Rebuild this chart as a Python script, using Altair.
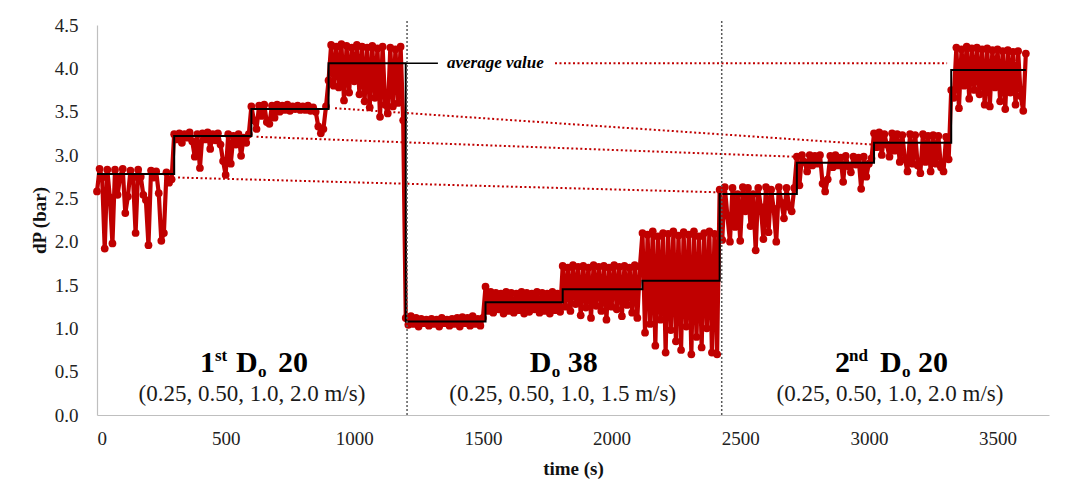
import altair as alt
import pandas as pd

RED = "#C00000"
FONT = "Liberation Serif"
SAMPLE_STEP = 10  # seconds between recorded samples

# ---- measured signal (dP, bar), one list per velocity step ----
segment_start = [0, 300, 600, 900, 1200, 1510, 1810, 2120, 2420, 2720, 3020, 3320]
segment_avg = [2.78, 3.22, 3.53, 4.06, 1.08, 1.30, 1.45, 1.55, 2.55, 2.91, 3.14, 3.98]
end_time = 3610

seg01 = [2.58, 2.84, 2.74, 1.92, 2.83, 2.51, 1.98, 2.83, 2.54, 2.75,
         2.84, 2.33, 2.52, 2.82, 2.74, 2.10, 2.83, 2.75, 2.54, 2.48,
         1.96, 2.82, 2.74, 2.81, 2.56, 2.01, 2.10, 2.80, 2.68, 2.72]
seg02 = [3.24, 3.18, 3.25, 3.14, 3.24, 3.20, 3.26, 3.16, 2.98, 3.24,
         2.85, 3.25, 3.18, 3.26, 3.07, 3.24, 3.17, 3.25, 3.12, 2.93,
         2.77, 3.24, 2.90, 3.22, 3.12, 3.24, 2.99, 3.20, 3.14, 3.24]
seg03 = [3.56, 3.40, 3.30, 3.57, 3.45, 3.58, 3.38, 3.36, 3.57, 3.43,
         3.58, 3.50, 3.57, 3.52, 3.58, 3.51, 3.56, 3.53, 3.57, 3.52,
         3.56, 3.52, 3.57, 3.51, 3.55, 3.50, 3.33, 3.25, 3.30, 3.56]
seg04 = [3.86, 4.27, 3.80, 4.25, 3.78, 4.28, 3.63, 4.26, 3.72, 4.24,
         3.85, 4.27, 3.70, 4.25, 3.62, 4.24, 3.55, 4.26, 3.66, 4.23,
         3.44, 4.25, 3.58, 3.48, 4.24, 3.56, 4.22, 3.60, 4.25, 3.40]
seg05 = [1.12, 1.04, 1.14, 1.05, 1.12, 1.02, 1.11, 1.06, 1.10, 1.03,
         1.11, 1.05, 1.10, 1.02, 1.12, 1.06, 1.10, 1.03, 1.11, 1.05,
         1.12, 1.02, 1.13, 1.06, 1.12, 1.03, 1.14, 1.05, 1.11, 1.03, 1.12]
seg06 = [1.48, 1.20, 1.42, 1.18, 1.41, 1.22, 1.40, 1.17, 1.42, 1.20,
         1.41, 1.18, 1.40, 1.21, 1.42, 1.17, 1.41, 1.19, 1.40, 1.22,
         1.42, 1.18, 1.41, 1.20, 1.40, 1.17, 1.42, 1.21, 1.40, 1.19]
seg07 = [1.72, 1.25, 1.70, 1.20, 1.73, 1.28, 1.71, 1.15, 1.72, 1.24,
         1.70, 1.12, 1.73, 1.26, 1.71, 1.20, 1.72, 1.10, 1.70, 1.25,
         1.73, 1.22, 1.71, 1.14, 1.72, 1.27, 1.70, 1.18, 1.73, 1.12, 1.71]
seg08 = [2.10, 0.95, 2.08, 1.05, 2.12, 0.80, 2.06, 1.10, 2.10, 0.72,
         2.09, 0.98, 2.12, 0.85, 2.07, 0.75, 2.11, 1.02, 2.08, 0.70,
         2.12, 0.90, 2.06, 0.78, 2.10, 1.00, 2.12, 0.72, 2.09, 0.70]
seg09 = [2.60, 2.02, 2.63, 2.30, 2.00, 2.62, 2.17, 2.55, 2.01, 2.63,
         2.35, 2.62, 2.18, 2.55, 1.90, 2.62, 2.40, 2.03, 2.63, 2.11,
         2.60, 2.38, 2.00, 2.63, 2.45, 2.27, 2.62, 2.40, 2.35, 2.62]
seg10 = [2.98, 2.65, 3.00, 2.92, 2.81, 3.00, 2.88, 2.99, 2.90, 3.00,
         2.67, 2.58, 2.72, 2.99, 2.86, 3.00, 2.88, 2.97, 2.69, 2.99,
         2.87, 2.80, 2.98, 2.89, 2.97, 2.61, 2.98, 2.75, 2.90, 2.96]
seg11 = [3.25, 3.09, 3.26, 3.00, 3.24, 3.12, 2.98, 3.25, 3.05, 3.24,
         2.92, 3.23, 2.95, 2.81, 3.24, 2.90, 3.23, 2.88, 2.79, 3.24,
         2.92, 3.22, 2.81, 3.23, 2.90, 3.22, 2.86, 2.81, 3.21, 2.95]
seg12 = [3.75, 3.66, 4.24, 3.54, 4.22, 3.80, 4.25, 3.65, 4.23, 3.75,
         4.24, 3.70, 4.22, 3.58, 4.23, 3.56, 4.21, 3.78, 4.22, 3.62,
         4.20, 3.53, 4.21, 3.72, 4.19, 3.58, 4.20, 3.68, 3.51, 4.17]
segments = [seg01, seg02, seg03, seg04, seg05, seg06,
            seg07, seg08, seg09, seg10, seg11, seg12]

# ---- dotted guides linking equal-velocity averages ----
guide_x = [315, 620, 925, 1780]
guide_x2 = [2410, 2713, 3016, 3304]
guide_y = [2.74, 3.21, 3.54, 4.06]
guide_y2 = [2.57, 2.98, 3.12, 4.06]

divider_x = [1205, 2428]

leader_x, leader_x2, leader_y = 1200, 1325, 4.06
avg_label = "average value"
avg_label_x = 1360

group_center = [602, 1810, 3082]
group_sub = ["(0.25, 0.50, 1.0, 2.0 m/s)", "(0.25, 0.50, 1.0, 1.5 m/s)",
             "(0.25, 0.50, 1.0, 2.0 m/s)"]
# title pieces: (text, font size, dx, dy)
group_title = [
    [("1", 30, -52, 0), ("st", 17, -37, -11), ("D", 30, -16, 0), ("o", 17, 6, 5), ("20", 30, 26, 0)],
    [("D", 30, -33, 0), ("o", 17, -11, 5), ("38", 30, 5, 0)],
    [("2", 30, -55, 0), ("nd", 17, -41, -11), ("D", 30, -10, 0), ("o", 17, 12, 5), ("20", 30, 28, 0)],
]
title_y = 0.50
sub_y = 0.165

# ---- build tables ----
rows = []
for start, vals in zip(segment_start, segments):
    for i, v in enumerate(vals):
        rows.append({"t": start + SAMPLE_STEP * i, "dP": v})
signal = pd.DataFrame(rows)

avg_df = pd.DataFrame({"t": segment_start + [end_time],
                       "avg": segment_avg + [segment_avg[-1]]})
guides = pd.DataFrame({"x": guide_x, "x2": guide_x2, "y": guide_y, "y2": guide_y2})
dividers = pd.DataFrame({"x": divider_x, "y": [0, 0], "y2": [4.56, 4.56]})

xs = alt.Scale(domain=[0, 3700], nice=False, zero=False)
ys = alt.Scale(domain=[0, 4.5], nice=False)

x_axis = alt.Axis(values=[0, 500, 1000, 1500, 2000, 2500, 3000, 3500], format="d",
                  title="time (s)", ticks=False, grid=False, labelPadding=14,
                  titleY=44, titleBaseline="top")
y_axis = alt.Axis(values=[0, 0.5, 1, 1.5, 2, 2.5, 3, 3.5, 4, 4.5], format=".1f",
                  title="dP (bar)", ticks=False, grid=False, labelPadding=19,
                  titleX=-58, titleBaseline="middle")

base_x = alt.X("t:Q", scale=xs, axis=x_axis)
base_y = alt.Y("dP:Q", scale=ys, axis=y_axis)

guide_layer = alt.Chart(guides).mark_rule(color=RED, strokeWidth=2, strokeDash=[2, 2.5]).encode(
    x=alt.X("x:Q", scale=xs, axis=x_axis), x2="x2:Q",
    y=alt.Y("y:Q", scale=ys, axis=y_axis), y2="y2:Q")

signal_layer = alt.Chart(signal).mark_line(
    color=RED, strokeWidth=4.2, strokeJoin="round",
    point=alt.OverlayMarkDef(filled=True, size=60, color=RED, opacity=1)).encode(
    x=base_x, y=base_y)

avg_layer = alt.Chart(avg_df).mark_line(interpolate="step-after", color="black", strokeWidth=2).encode(
    x=alt.X("t:Q", scale=xs, axis=x_axis), y=alt.Y("avg:Q", scale=ys, axis=y_axis))

leader = alt.Chart(pd.DataFrame({"x": [leader_x], "x2": [leader_x2], "y": [leader_y]})).mark_rule(
    color="black", strokeWidth=1.5).encode(
    x=alt.X("x:Q", scale=xs, axis=x_axis), x2="x2:Q", y=alt.Y("y:Q", scale=ys, axis=y_axis))

leader_text = alt.Chart(pd.DataFrame({"x": [avg_label_x], "y": [leader_y], "text": [avg_label]})).mark_text(
    font=FONT, fontSize=17, fontStyle="italic", fontWeight=600, align="left", baseline="middle",
    color="black").encode(
    x=alt.X("x:Q", scale=xs, axis=x_axis), y=alt.Y("y:Q", scale=ys, axis=y_axis), text="text:N")

divider_layer = alt.Chart(dividers).mark_rule(color="#595959", strokeWidth=1.5, strokeDash=[2, 2]).encode(
    x=alt.X("x:Q", scale=xs, axis=x_axis), y=alt.Y("y:Q", scale=ys, axis=y_axis), y2="y2:Q")

text_layers = []
for cx, pieces, sub in zip(group_center, group_title, group_sub):
    for txt, fs, dx, dy in pieces:
        text_layers.append(
            alt.Chart(pd.DataFrame({"x": [cx], "y": [title_y], "text": [txt]})).mark_text(
                font=FONT, fontSize=fs, fontWeight="bold", align="left", baseline="alphabetic",
                dx=dx, dy=dy, color="black").encode(
                x=alt.X("x:Q", scale=xs, axis=x_axis), y=alt.Y("y:Q", scale=ys, axis=y_axis),
                text="text:N"))
    text_layers.append(
        alt.Chart(pd.DataFrame({"x": [cx], "y": [sub_y], "text": [sub]})).mark_text(
            font=FONT, fontSize=23, align="center", baseline="alphabetic", color="#1a1a1a").encode(
            x=alt.X("x:Q", scale=xs, axis=x_axis), y=alt.Y("y:Q", scale=ys, axis=y_axis),
            text="text:N"))

chart = alt.layer(guide_layer, signal_layer, avg_layer, leader, leader_text, divider_layer,
                  *text_layers).properties(
    width=952, height=390,
    autosize=alt.AutoSizeParams(type="none"),
    padding={"left": 89, "top": 17, "right": 15, "bottom": 72},
    background="white",
).configure_view(stroke=None).configure_axis(
    labelFont=FONT, labelFontSize=19, labelColor="#222222",
    titleFont=FONT, titleFontSize=19, titleFontWeight="bold", titleColor="#111111",
    domainColor="#BFBFBF", domainWidth=1.2,
)

chart.save("out.html", embed_options={"renderer": "svg", "actions": False})
